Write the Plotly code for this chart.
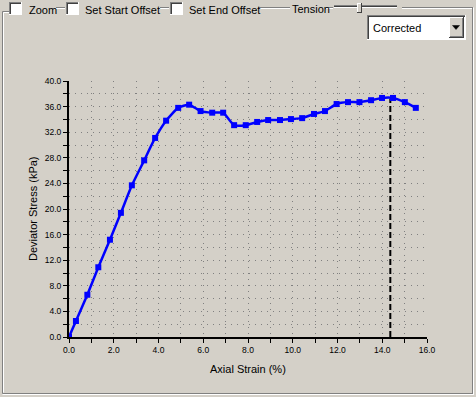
import plotly.graph_objects as go

# ---------------- data ----------------
strain = [0.0, 0.31, 0.82, 1.31, 1.83, 2.32, 2.81, 3.36, 3.85, 4.34, 4.88, 5.37,
          5.88, 6.40, 6.89, 7.38, 7.90, 8.41, 8.90, 9.43, 9.92, 10.42, 10.95,
          11.44, 11.96, 12.47, 12.98, 13.50, 13.99, 14.48, 15.01, 15.50]
stress = [0.0, 2.5, 6.6, 10.9, 15.2, 19.4, 23.7, 27.6, 31.1, 33.8, 35.8, 36.3,
          35.3, 35.05, 35.05, 33.1, 33.1, 33.6, 33.9, 33.9, 34.05, 34.2, 34.85,
          35.3, 36.4, 36.7, 36.7, 37.0, 37.35, 37.35, 36.7, 35.8]
peak_strain = 14.36
peak_stress = 37.2

x_title = "Axial Strain (%)"
y_title = "Deviator Stress (kPa)"
checkbox_labels = ["Zoom", "Set Start Offset", "Set End Offset"]
dropdown_value = "Corrected"

# ---------------- geometry helpers ----------------
W, H = 476, 397
L, R, T, B = 69, 49, 81, 60
PW, PH = W - L - R, H - T - B

def X(p):
    return (p - L) / PW

def Y(p):
    return (H - B - p) / PH

BG = "#D4D0C8"
GRAY = "#808080"
DARK = "#404040"
WHITE = "#FFFFFF"
FONT = "Liberation Sans"

shapes = []
annotations = []

def hline(x0, x1, y, color, w=1):
    shapes.append(dict(type="line", xref="paper", yref="paper",
                       x0=X(x0), x1=X(x1), y0=Y(y), y1=Y(y),
                       line=dict(color=color, width=w), layer="above"))

def vline(x, y0, y1, color, w=1):
    shapes.append(dict(type="line", xref="paper", yref="paper",
                       x0=X(x), x1=X(x), y0=Y(y0), y1=Y(y1),
                       line=dict(color=color, width=w), layer="above"))

def rect(x0, y0, x1, y1, fill, line_color=None, w=1):
    shapes.append(dict(type="rect", xref="paper", yref="paper",
                       x0=X(x0), x1=X(x1), y0=Y(y1), y1=Y(y0),
                       fillcolor=fill,
                       line=dict(color=line_color or fill, width=w if line_color else 0),
                       layer="above"))

def text(s, x, y, size=11, xanchor="left", angle=0, color="#000000"):
    annotations.append(dict(text=s, xref="paper", yref="paper", x=X(x), y=Y(y),
                            xanchor=xanchor, yanchor="middle", showarrow=False,
                            textangle=angle, font=dict(family=FONT, size=size, color=color)))

# group box (etched)
vline(2.5, 11.5, 393.5, GRAY)
vline(3.5, 12.5, 392.5, WHITE)
hline(2.5, 9, 11.5, GRAY)
hline(3.5, 9, 12.5, WHITE)
for a, b in [(56, 65), (160, 169), (258, 290), (326, 333), (402, 473)]:
    hline(a, b, 7.5, GRAY)
    hline(a, b, 8.5, WHITE)
vline(472.5, 7.5, 393.5, GRAY)
vline(473.5, 7.5, 394.5, WHITE)
hline(2.5, 473, 393.5, GRAY)
hline(2.5, 474, 394.5, WHITE)

# checkboxes
for cx, lbl_x, lbl in zip([9, 66, 170], [27, 83, 187], checkbox_labels):
    rect(cx, 2, cx + 13, 15, WHITE)
    hline(cx, cx + 13, 2.5, GRAY)
    vline(cx + 0.5, 2, 15, GRAY)
    hline(cx + 1, cx + 12, 3.5, DARK)
    vline(cx + 1.5, 3, 14, DARK)
    hline(cx, cx + 13, 14.5, WHITE)
    vline(cx + 12.5, 2, 15, WHITE)
    text(lbl, lbl_x, 9.5)

text("Tension", 290, 8.5)

# slider
hline(334, 397, 5.5, GRAY)
hline(334, 397, 6.5, DARK)
hline(334, 397, 7.5, WHITE)
rect(357, 3, 362, 13, BG)
vline(357.5, 3, 13, WHITE)
hline(357, 362, 3.5, WHITE)
vline(361.5, 3, 13, DARK)
hline(357, 362, 12.5, DARK)

# dropdown
rect(367, 15, 466, 40, WHITE)
hline(367, 466, 15.5, GRAY)
vline(367.5, 15, 40, GRAY)
hline(368, 465, 16.5, DARK)
vline(368.5, 16, 39, DARK)
hline(367, 466, 39.5, WHITE)
vline(465.5, 15, 40, WHITE)
rect(449, 17, 464, 38, BG)
hline(449, 464, 17.5, WHITE)
vline(449.5, 17, 38, WHITE)
hline(449, 464, 37.5, DARK)
vline(463.5, 17, 38, DARK)
hline(450, 463, 36.5, GRAY)
vline(462.5, 18, 37, GRAY)
shapes.append(dict(type="path", xref="paper", yref="paper",
                   path=f"M {X(452.5)} {Y(25.5)} L {X(459.5)} {Y(25.5)} L {X(456)} {Y(29.5)} Z",
                   fillcolor="#000000", line=dict(color="#000000", width=0.5), layer="above"))
text(dropdown_value, 371, 28)

# axis titles
text(x_title, 248, 369, size=11, xanchor="center")
text(y_title, 33, 209, size=11, xanchor="center", angle=-90)

# ---------------- traces ----------------
fig = go.Figure()
fig.add_trace(go.Scatter(x=[peak_strain, peak_strain], y=[0, peak_stress], mode="lines",
                         line=dict(color="#000000", width=2, dash="6px,3px"),
                         hoverinfo="skip", showlegend=False))
fig.add_trace(go.Scatter(x=strain, y=stress, mode="lines+markers",
                         line=dict(color="#0000FF", width=2.5, shape="spline", smoothing=0.5),
                         marker=dict(symbol="square", size=6, color="#0000FF"),
                         showlegend=False))

grid = dict(gridcolor=GRAY, gridwidth=1, griddash="1px,5px")
axis_common = dict(showline=True, linecolor="#000000", linewidth=2, mirror=False,
                   ticks="outside", ticklen=4, tickwidth=1, tickcolor="#000000",
                   tickfont=dict(family=FONT, size=8.5, color="#000000"),
                   showgrid=True, zeroline=False, tickformat=".1f", **grid)

fig.update_xaxes(range=[0, 16], dtick=2, tick0=0,
                 minor=dict(dtick=1, ticks="outside", ticklen=4, tickcolor="#000000",
                            showgrid=True, **grid),
                 **axis_common)
fig.update_yaxes(range=[0, 40], dtick=4, tick0=0,
                 minor=dict(dtick=2, ticks="outside", ticklen=4, tickcolor="#000000",
                            showgrid=True, **grid),
                 **axis_common)

fig.update_layout(width=W, height=H, margin=dict(l=L, r=R, t=T, b=B, autoexpand=False),
                  paper_bgcolor=BG, plot_bgcolor=BG, shapes=shapes, annotations=annotations,
                  font=dict(family=FONT, color="#000000"))

fig.write_html("out.html")
